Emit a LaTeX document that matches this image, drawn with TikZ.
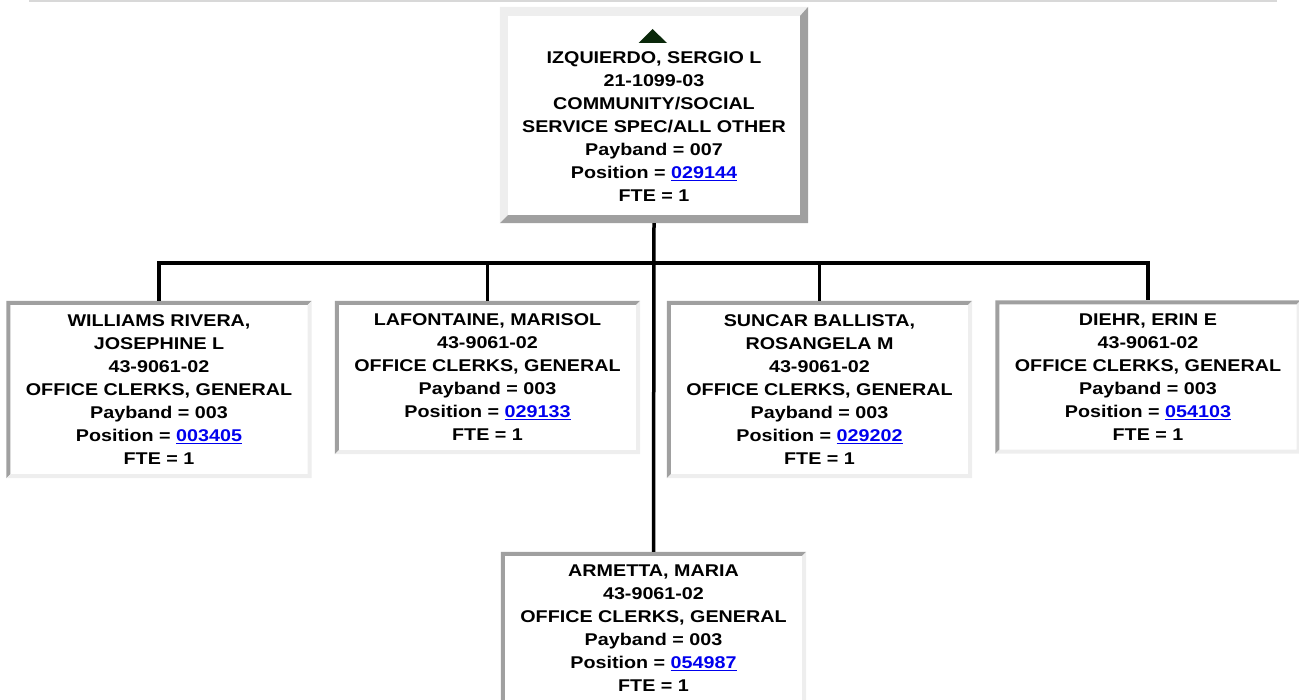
\documentclass[tikz,border=0pt]{standalone}
\usepackage{fontspec}
\setmainfont[FakeStretch=1.16]{Liberation Sans}
\usetikzlibrary{positioning}
\definecolor{rimdark}{RGB}{160,160,160}
\definecolor{rimlight}{RGB}{238,238,238}
\definecolor{rule}{RGB}{216,216,216}
\definecolor{linkblue}{RGB}{0,0,238}
\definecolor{iconfill}{RGB}{10,40,10}
\newcommand{\poslink}[1]{\textcolor{linkblue}{\underline{#1}}}
\tikzset{
  card/.style      = {fill=white, align=center, inner sep=0pt, minimum width=305pt,
                      font=\fontsize{17}{23}\selectfont\bfseries},
  cardtall/.style  = {card, minimum height=177pt},
  cardshort/.style = {card, minimum height=153pt},
  cardhead/.style  = {card, minimum width=308pt, minimum height=216pt},
  wire/.style      = {line width=3.5pt},
}
\begin{document}
\begin{tikzpicture}[x=1pt,y=-1pt]
  \useasboundingbox (0,0) rectangle (1299,700);
  \clip (0,0) rectangle (1299,700);
  % page rule
  \draw[rule, line width=1.5pt] (29,1) -- (1277,1);
  % head of the unit
  \node[cardhead] (head) at (654,115)
    {\rule{0pt}{12pt}\\IZQUIERDO, SERGIO L\\21-1099-03\\COMMUNITY/SOCIAL\\
     SERVICE SPEC/ALL OTHER\\Payband = 007\\Position = \poslink{029144}\\FTE = 1};
  % staff
  \node[cardtall] (will) at (159,389.5)
    {WILLIAMS RIVERA,\\JOSEPHINE L\\43-9061-02\\OFFICE CLERKS, GENERAL\\
     Payband = 003\\Position = \poslink{003405}\\FTE = 1};
  \node[cardshort] (lafo) at (487.5,377.5)
    {LAFONTAINE, MARISOL\\43-9061-02\\OFFICE CLERKS, GENERAL\\
     Payband = 003\\Position = \poslink{029133}\\FTE = 1};
  \node[cardtall] (sunc) at (819.5,389.5)
    {SUNCAR BALLISTA,\\ROSANGELA M\\43-9061-02\\OFFICE CLERKS, GENERAL\\
     Payband = 003\\Position = \poslink{029202}\\FTE = 1};
  \node[cardshort] (dieh) at (1148,377)
    {DIEHR, ERIN E\\43-9061-02\\OFFICE CLERKS, GENERAL\\
     Payband = 003\\Position = \poslink{054103}\\FTE = 1};
  \node[cardshort] (arme) at (653.5,628.5)
    {ARMETTA, MARIA\\43-9061-02\\OFFICE CLERKS, GENERAL\\
     Payband = 003\\Position = \poslink{054987}\\FTE = 1};
  % raised rim of the head card
  \fill[rimlight] (head.south west) -- (head.north west) -- (head.north east)
    -- ([xshift=-8pt,yshift=-9pt]head.north east) -- ([xshift=8pt,yshift=-9pt]head.north west)
    -- ([xshift=8pt,yshift=8pt]head.south west) -- cycle;
  \fill[rimdark] (head.south west) -- (head.south east) -- (head.north east)
    -- ([xshift=-8pt,yshift=-9pt]head.north east) -- ([xshift=-8pt,yshift=8pt]head.south east)
    -- ([xshift=8pt,yshift=8pt]head.south west) -- cycle;
  \fill[iconfill] (638.5,43) -- (667,43) -- (652.5,29) -- cycle;
  % sunken rims of the staff cards
  \foreach \n in {will,lafo,sunc,dieh,arme} {
    \fill[rimdark] (\n.south west) -- (\n.north west) -- (\n.north east)
      -- ([xshift=-4pt,yshift=-4pt]\n.north east) -- ([xshift=4pt,yshift=-4pt]\n.north west)
      -- ([xshift=4pt,yshift=4pt]\n.south west) -- cycle;
    \fill[rimlight] (\n.south west) -- (\n.south east) -- (\n.north east)
      -- ([xshift=-4pt,yshift=-4pt]\n.north east) -- ([xshift=-4pt,yshift=4pt]\n.south east)
      -- ([xshift=4pt,yshift=4pt]\n.south west) -- cycle;
  }
  % connectors
  \coordinate (bus) at (654,263);
  \draw[wire] (head.south) -- (arme.north);
  \draw[wire] (will.north) |- (bus) -| (dieh.north);
  \draw[wire] (lafo.north) -- (lafo.north |- bus);
  \draw[wire] (sunc.north) -- (sunc.north |- bus);
\end{tikzpicture}
\end{document}
